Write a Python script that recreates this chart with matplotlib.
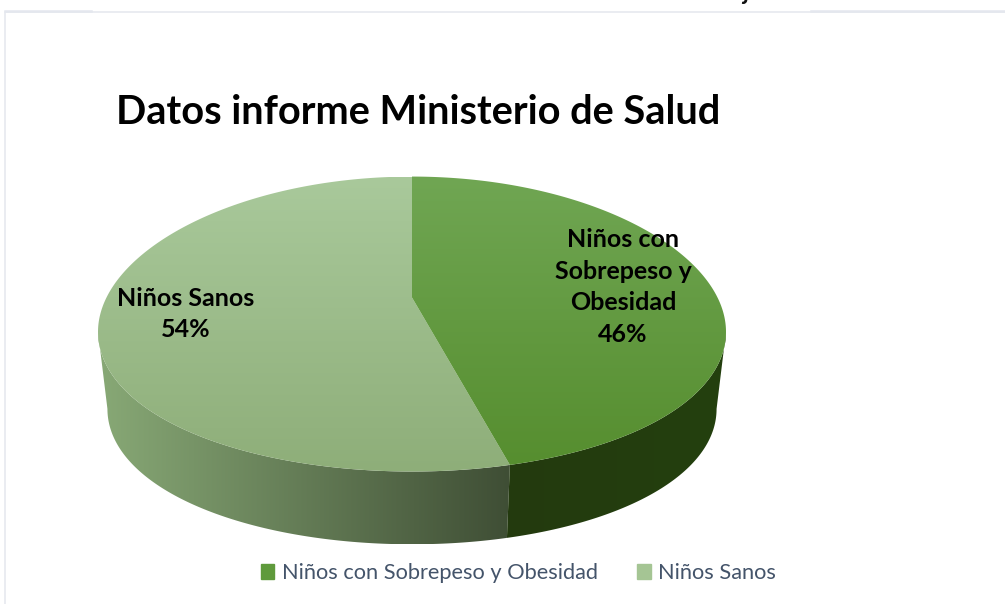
import numpy as np
import matplotlib
matplotlib.use('Agg')
import matplotlib.pyplot as plt
from matplotlib.colors import to_rgb
from matplotlib.patches import Patch, Polygon

titulo = "Datos informe Ministerio de Salud"
categorias = ["Niños con Sobrepeso y Obesidad", "Niños Sanos"]
valores = [46, 54]

plt.rcParams['font.family'] = ['Lato', 'DejaVu Sans']

W, H = 1005, 604
fig = plt.figure(figsize=(W / 100, H / 100), dpi=100)
ax = fig.add_axes([0, 0, 1, 1])


def proyeccion(theta, escala=1.0, dy=0.0):
    # disco visto en perspectiva, theta en sentido horario desde arriba
    t = -np.cos(theta)
    x = 412 + escala * 305.5 * np.sin(theta) / (1 - 0.231 * t)
    y = 297.5 + dy + escala * 142.7 * t / (1 - 0.18 * t)
    return x, y


def degradado(puntos, c1, c2, horizontal=False):
    x0, x1 = puntos[:, 0].min(), puntos[:, 0].max()
    y0, y1 = puntos[:, 1].min(), puntos[:, 1].max()
    f = np.linspace(0, 1, 256)
    img = np.outer(1 - f, to_rgb(c1)) + np.outer(f, to_rgb(c2))
    img = img[None, :, :] if horizontal else img[:, None, :]
    im = ax.imshow(img, extent=[x0, x1, y1, y0], aspect='auto', zorder=2, interpolation='bilinear')
    clip = Polygon(puntos, closed=True, transform=ax.transData, fc='none', ec='none')
    ax.add_patch(clip)
    im.set_clip_path(clip)


corte = 2 * np.pi * valores[0] / sum(valores)
izq, der = np.arccos(-0.231), 2 * np.pi - np.arccos(-0.231)


def lateral(a, b, c1, c2):
    th = np.linspace(a, b, 150)
    sup = np.column_stack(proyeccion(th))
    inf = np.column_stack(proyeccion(th[::-1], 0.97, 78))
    degradado(np.vstack([sup, inf]), c1, c2, horizontal=True)


def cara(a, b, c1, c2):
    th = np.linspace(a, b, 300)
    arco = np.column_stack(proyeccion(th))
    puntos = np.vstack([[412, 297.5], arco])
    degradado(puntos, c1, c2)


lateral(corte, der, '#88a976', '#3f4e35')
lateral(izq, corte, '#233a0e', '#24400f')
cara(corte, 2 * np.pi, '#a9c99b', '#8eae79')
cara(0, corte, '#70a653', '#568e2f')

ax.set_xlim(0, W)
ax.set_ylim(H, 0)
ax.axis('off')

# marco de la pagina
marco = '#e4e7ee'
ax.plot([5, 5, W], [H, 11.5, 11.5], color=marco, lw=1.1, zorder=1)
ax.plot([5, 91], [10.8, 10.8], color=marco, lw=1.8, zorder=1)
ax.plot([811, W], [10.8, 10.8], color=marco, lw=1.8, zorder=1)
ax.text(746, 0, "j", fontsize=17, fontweight='bold', style='italic', ha='center', va='baseline',
        color='#111111')

ax.text(116, 113, titulo, fontsize=28.6, fontweight='bold', color='black', ha='left', va='center', zorder=3)
ax.text(623, 287, f"Niños con\nSobrepeso y\nObesidad\n{valores[0]}%", fontsize=18, fontweight='bold',
        color='black', ha='center', va='center', linespacing=1.47, zorder=3)
ax.text(186, 314, f"Niños Sanos\n{valores[1]}%", fontsize=18, fontweight='bold',
        color='black', ha='center', va='center', linespacing=1.47, zorder=3)

handles = [Patch(color='#5f9a3c'), Patch(color='#a5c594')]
ax.legend(handles, categorias, ncol=2, loc='center', bbox_to_anchor=(518.5 / W, 1 - 573 / H), frameon=False,
          fontsize=15.7, labelcolor='#44546a', handlelength=0.62, handleheight=0.7,
          handletextpad=0.35, columnspacing=1.8)

fig.savefig('out.png', dpi=100, facecolor='white')
